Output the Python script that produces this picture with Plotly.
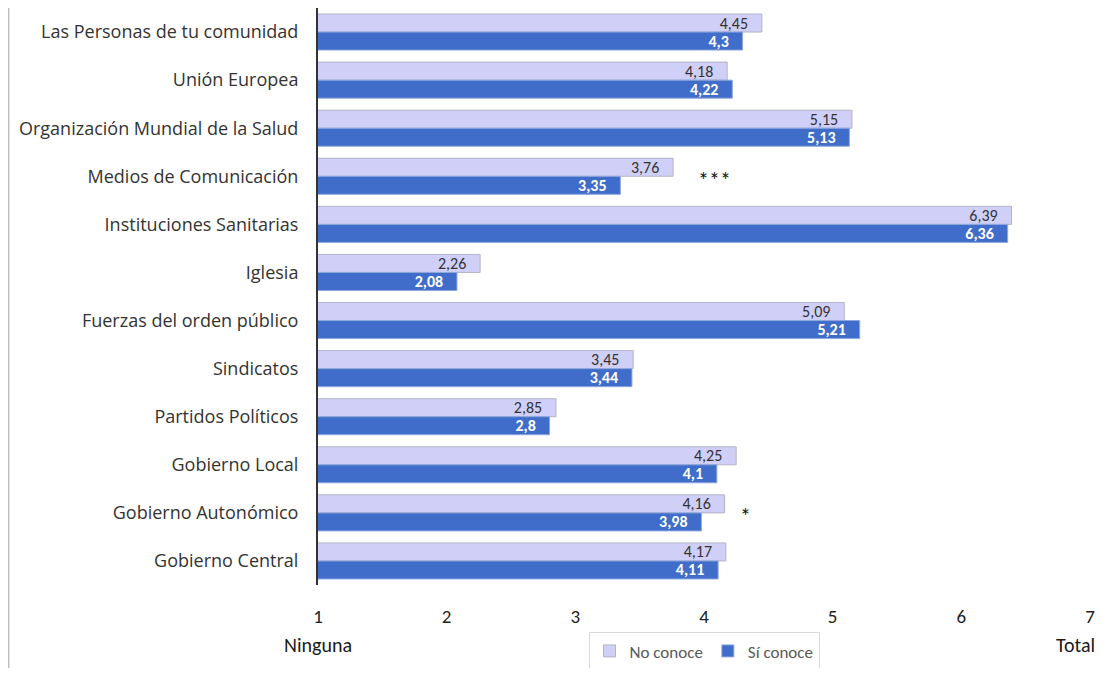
import plotly.graph_objects as go

categories = [
    "Las Personas de tu comunidad",
    "Unión Europea",
    "Organización Mundial de la Salud",
    "Medios de Comunicación",
    "Instituciones Sanitarias",
    "Iglesia",
    "Fuerzas del orden público",
    "Sindicatos",
    "Partidos Políticos",
    "Gobierno Local",
    "Gobierno Autonómico",
    "Gobierno Central",
]
no_conoce = [4.45, 4.18, 5.15, 3.76, 6.39, 2.26, 5.09, 3.45, 2.85, 4.25, 4.16, 4.17]
si_conoce = [4.30, 4.22, 5.13, 3.35, 6.36, 2.08, 5.21, 3.44, 2.80, 4.10, 3.98, 4.11]
x_ticks = [1, 2, 3, 4, 5, 6, 7]
sig_categories = ["Medios de Comunicación", "Gobierno Autonómico"]
sig_marks = ["***", "*"]
sig_x = [4.08, 4.32]

LABEL_FONT = "Carlito, Calibri, Lato, sans-serif"


def fmt(v):
    return ("%g" % v).replace(".", ",") + "\u00a0\u00a0\u00a0"


fig = go.Figure()
fig.add_trace(go.Bar(
    y=categories, x=no_conoce, orientation="h", name="No conoce",
    marker=dict(color="#CFCFF8", line=dict(color="#B4B4C4", width=1)),
    text=[fmt(v) for v in no_conoce], textposition="inside",
    insidetextanchor="end", textangle=0, constraintext="none",
    textfont=dict(family=LABEL_FONT, size=16, color="#333333"),
))
fig.add_trace(go.Bar(
    y=categories, x=si_conoce, orientation="h", name="Sí conoce",
    marker=dict(color="#3F6DC9", line=dict(color="#8FA8DE", width=1)),
    text=["<b>" + fmt(v) + "</b>" for v in si_conoce], textposition="inside",
    insidetextanchor="end", textangle=0, constraintext="none",
    textfont=dict(family=LABEL_FONT, size=16, color="#FFFFFF"),
))

annotations = []
for cat, mark, xs in zip(sig_categories, sig_marks, sig_x):
    annotations.append(dict(x=xs, y=cat, xref="x", yref="y", text=mark,
                            showarrow=False, xanchor="center", yshift=-4,
                            font=dict(family=LABEL_FONT, size=22, color="#111111")))
annotations.append(dict(x=0, y=-0.104, xref="paper", yref="paper", text="Ninguna",
                        showarrow=False, xanchor="center", yanchor="middle",
                        font=dict(family=LABEL_FONT, size=20, color="#1a1a1a")))
annotations.append(dict(x=1.009, y=-0.104, xref="paper", yref="paper", text="Total",
                        showarrow=False, xanchor="right", yanchor="middle",
                        font=dict(family=LABEL_FONT, size=20, color="#1a1a1a")))

fig.update_layout(
    width=1091, height=660,
    margin=dict(l=310, r=9, t=0, b=83),
    paper_bgcolor="white", plot_bgcolor="white",
    barmode="group", bargap=0.25, bargroupgap=0.0,
    font=dict(family="Open Sans", size=16, color="#333333"),
    xaxis=dict(range=[1, 7], tickvals=x_ticks, showgrid=False, zeroline=False,
               showline=False, ticks="", ticklabelstandoff=18,
               tickfont=dict(family=LABEL_FONT, size=19, color="#222222")),
    yaxis=dict(autorange="reversed", showgrid=False, showline=True,
               linecolor="#333333", linewidth=2, ticks="", ticklabelstandoff=14,
               tickfont=dict(family="Open Sans", size=18, color="#333333")),
    legend=dict(orientation="h", x=0.5, xanchor="center",
                yref="container", y=0.054, yanchor="top",
                bordercolor="#D9D9D9", borderwidth=1,
                font=dict(family=LABEL_FONT, size=17, color="#595959"),
                itemwidth=30),
    annotations=annotations,
    shapes=[dict(type="line", xref="paper", yref="paper", x0=-0.4005, x1=-0.4005,
                 y0=-0.145, y1=1.0, line=dict(color="#A0A0A0", width=1))],
)

fig.write_html("out.html")
